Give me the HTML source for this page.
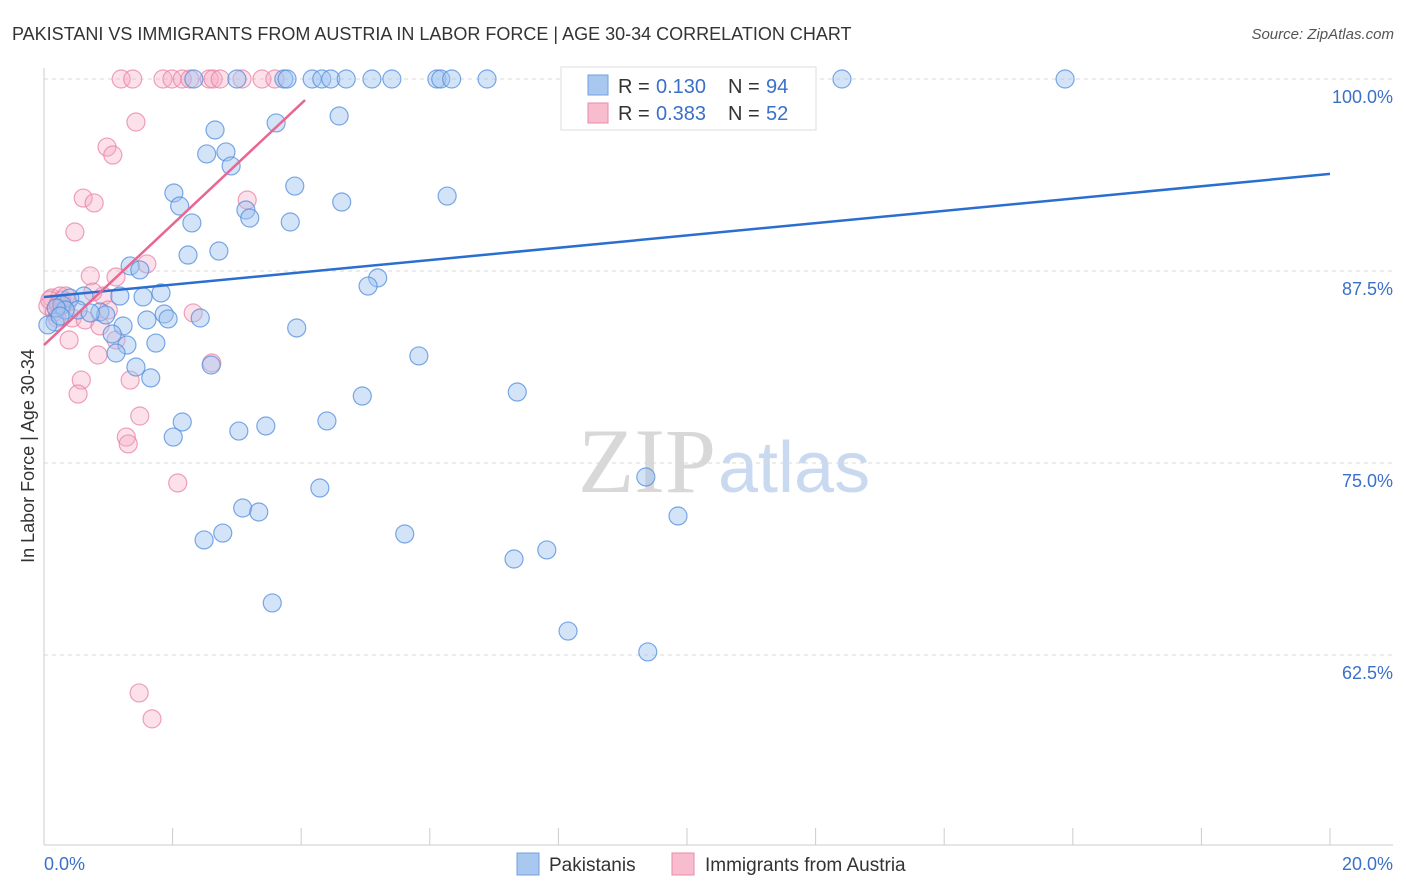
<!DOCTYPE html>
<html><head><meta charset="utf-8"><style>
body{margin:0;background:#fff;font-family:"Liberation Sans",sans-serif}
svg{display:block}
</style></head><body>
<svg id="chart" width="1406" height="892">
<text x="12" y="40" font-size="18" fill="#333">PAKISTANI VS IMMIGRANTS FROM AUSTRIA IN LABOR FORCE | AGE 30-34 CORRELATION CHART</text>
<text x="1394" y="39" font-size="15" fill="#555" font-style="italic" text-anchor="end">Source: ZipAtlas.com</text>
<text x="716" y="492" font-size="92" fill="#d8d8d8" text-anchor="end" font-family="Liberation Serif,serif">ZIP</text>
<text x="718" y="492" font-size="72" fill="#c9daf0">atlas</text>
<g id="grid"></g>
<g id="axes"></g>
<g id="marks"></g>
<text transform="translate(34,456) rotate(-90)" font-size="18" fill="#333" text-anchor="middle">In Labor Force | Age 30-34</text>
<g>
<rect x="561" y="67" width="255" height="63" fill="#fff" stroke="#ddd"/>
<rect x="588" y="75" width="20" height="20" fill="#a9c8f0" stroke="#6fa0e0"/>
<rect x="588" y="103" width="20" height="20" fill="#f7bccd" stroke="#e88aa8"/>
<text x="618" y="93" font-size="20" fill="#333">R =</text>
<text x="656" y="93" font-size="20" fill="#3b70c8">0.130</text>
<text x="728" y="93" font-size="20" fill="#333">N =</text>
<text x="766" y="93" font-size="20" fill="#3b70c8">94</text>
<text x="618" y="120" font-size="20" fill="#333">R =</text>
<text x="656" y="120" font-size="20" fill="#3b70c8">0.383</text>
<text x="728" y="120" font-size="20" fill="#333">N =</text>
<text x="766" y="120" font-size="20" fill="#3b70c8">52</text>
</g>
<g>
<rect x="517" y="853" width="22" height="22" fill="#a9c8f0" stroke="#6fa0e0"/>
<text x="549" y="871" font-size="19" fill="#333">Pakistanis</text>
<rect x="672" y="853" width="22" height="22" fill="#f7bccd" stroke="#e88aa8"/>
<text x="705" y="871" font-size="19" fill="#333">Immigrants from Austria</text>
</g>
</svg>
<script>
const yTicks=[100,87.5,75,62.5];
const yTickLabels=["100.0%","87.5%","75.0%","62.5%"];
const xTicks=[0,2,4,6,8,10,12,14,16,18,20];
const xEndLabels=["0.0%","20.0%"];
const blueX=[8.58,9.77,12.41,15.88,2.33,3.00,3.73,3.78,4.17,4.32,4.46,4.70,5.10,5.41,6.11,6.17,6.34,6.89,4.59,3.61,2.66,2.83,2.53,2.91,3.90,2.02,4.63,6.27,2.11,3.14,3.20,3.83,2.30,2.72,2.24,1.34,1.49,5.19,5.04,1.18,1.54,1.82,0.62,0.40,0.28,0.53,0.87,0.96,1.87,1.93,2.43,1.60,1.23,3.93,0.17,0.06,1.06,1.74,1.29,1.12,5.83,1.43,2.60,1.66,4.95,7.36,2.15,4.40,2.01,3.45,3.03,4.29,9.36,3.09,3.34,9.86,5.61,2.78,2.49,7.82,7.31,3.55,8.15,9.39,0.72,0.33,0.19,0.25];
const blueY=[100,100,100,100,100,100,100,100,100,100,100,100,100,100,100,100,100,100,97.59,97.14,96.68,95.25,95.12,94.34,93.03,92.58,91.99,92.38,91.73,91.47,90.95,90.69,90.63,88.80,88.54,87.83,87.57,87.05,86.52,85.87,85.81,86.07,85.87,85.74,85.29,84.96,84.83,84.64,84.70,84.38,84.44,84.31,83.92,83.79,84.18,83.99,83.40,82.81,82.68,82.16,81.97,81.25,81.38,80.54,79.36,79.62,77.67,77.74,76.69,77.41,77.08,73.37,74.09,72.07,71.81,71.55,70.38,70.44,69.99,69.34,68.75,65.89,64.06,62.70,84.77,84.96,85.09,84.57];
const pinkX=[1.20,1.38,1.85,1.99,2.15,2.27,2.57,2.63,2.74,3.08,3.39,3.59,1.43,0.98,1.07,0.61,0.78,3.16,0.48,1.60,0.72,1.12,0.92,0.76,0.12,0.25,0.37,0.06,0.16,0.44,0.64,1.00,2.32,0.20,0.39,1.12,0.84,2.61,0.58,1.34,0.53,1.49,1.28,1.31,2.08,1.48,1.68,0.87,0.28,0.09,0.34,0.22];
const pinkY=[100,100,100,100,100,100,100,100,100,100,100,100,97.20,95.57,95.05,92.25,91.93,92.12,90.04,87.96,87.18,87.11,85.87,86.13,85.74,85.87,85.48,85.22,84.83,84.44,84.31,84.96,84.77,84.44,83.01,83.01,82.03,81.51,80.40,80.40,79.49,78.06,76.69,76.24,73.70,60.03,58.34,83.92,85.61,85.61,85.87,85.35];
const blueTrend=[85.81,93.82];
const pinkTrend=[82.68,98.63,4.06];
const NS='http://www.w3.org/2000/svg';
const X0=44,X1=1330,Y100=79,PX_PER=192/12.5;
const sx=v=>X0+(v/20)*(X1-X0);
const sy=v=>Y100+(100-v)*PX_PER;
function mk(tag,attrs,parent){const e=document.createElementNS(NS,tag);for(const k in attrs)e.setAttribute(k,attrs[k]);document.getElementById(parent).appendChild(e);return e;}
yTicks.forEach((t,i)=>{
 const l=mk('line',{x1:X0,x2:1393,y1:sy(t),y2:sy(t),stroke:'#d8d8d8','stroke-dasharray':'4,4'},'grid');
 
 
 const tx=mk('text',{x:1393,y:sy(t)+24,'font-size':18,fill:'#3b70c8','text-anchor':'end'},'axes');
 tx.textContent=yTickLabels[i];
 
 
});
let a=mk('line',{x1:X0,x2:X0,y1:68,y2:845,stroke:'#ccc'},'axes');


a=mk('line',{x1:X0,x2:1393,y1:845,y2:845,stroke:'#ccc'},'axes');


xTicks.forEach(t=>{
 const l=mk('line',{x1:sx(t),x2:sx(t),y1:828,y2:845,stroke:'#ccc'},'axes');
 
 
});
let t0=mk('text',{x:44,y:870,'font-size':18,fill:'#3b70c8'},'axes');t0.textContent=xEndLabels[0];


let t1=mk('text',{x:1393,y:870,'font-size':18,fill:'#3b70c8','text-anchor':'end'},'axes');t1.textContent=xEndLabels[1];


pinkX.forEach((x,i)=>{
 const c=mk('circle',{cx:sx(x),cy:sy(pinkY[i]),r:9,fill:'rgba(245,170,195,0.35)',stroke:'rgba(232,130,165,0.75)','stroke-width':1.2},'marks');
 
 
});
blueX.forEach((x,i)=>{
 const c=mk('circle',{cx:sx(x),cy:sy(blueY[i]),r:9,fill:'rgba(160,195,240,0.45)',stroke:'rgba(80,140,220,0.75)','stroke-width':1.2},'marks');
 
 
});
let bl=mk('line',{x1:sx(0),y1:sy(blueTrend[0]),x2:sx(20),y2:sy(blueTrend[1]),stroke:'#2a6fd0','stroke-width':2.5},'marks');


let pl=mk('line',{x1:sx(0),y1:sy(pinkTrend[0]),x2:sx(pinkTrend[2]),y2:sy(pinkTrend[1]),stroke:'#e8668f','stroke-width':2.5},'marks');


</script>
</body></html>
